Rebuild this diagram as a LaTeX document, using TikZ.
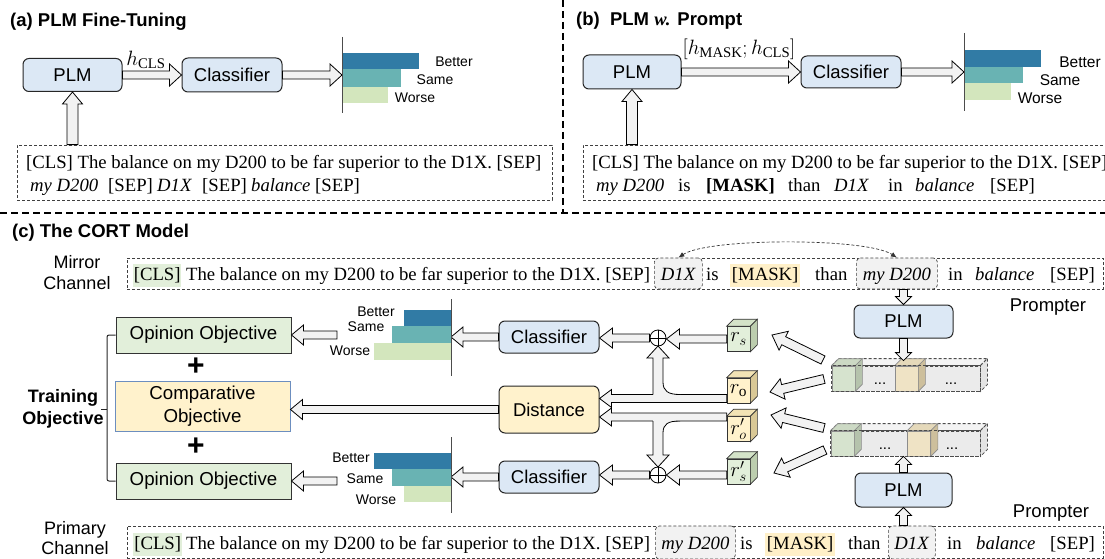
\documentclass[tikz,border=0pt]{standalone}
\usepackage{fontspec}
\setmainfont{Liberation Serif}
\setsansfont{Liberation Sans}
\usetikzlibrary{calc,arrows.meta}
\definecolor{boxblue}{HTML}{DCE8F5}
\definecolor{boxgreen}{HTML}{E2EFDA}
\definecolor{boxyellow}{HTML}{FFF2CC}
\definecolor{compborder}{HTML}{6C8EBF}
\definecolor{arrfill}{HTML}{F2F2F2}
\definecolor{barA}{HTML}{317BA5}
\definecolor{barB}{HTML}{69B3B3}
\definecolor{barC}{HTML}{D3E6BD}
\definecolor{hlgreen}{HTML}{E2EFDA}
\definecolor{hlyellow}{HTML}{FFF0C8}
\definecolor{tokgray}{HTML}{F2F2F2}
\definecolor{rowgray}{HTML}{EBEBEB}
\definecolor{rowtop}{HTML}{F3F3F3}
\definecolor{rowside}{HTML}{E4E4E4}
\definecolor{gfront}{HTML}{E2EFDA}
\definecolor{gtop}{HTML}{D4E3C8}
\definecolor{gside}{HTML}{BCCDAE}
\definecolor{yfront}{HTML}{FFF2CC}
\definecolor{ytop}{HTML}{F2E3B5}
\definecolor{yside}{HTML}{D9C896}
\definecolor{gfade}{HTML}{D6E3CE}
\definecolor{gfadetop}{HTML}{CCD9C4}
\definecolor{gfadeside}{HTML}{B5C3AC}
\definecolor{yfade}{HTML}{EFE3C5}
\definecolor{yfadetop}{HTML}{E5D9BA}
\definecolor{yfadeside}{HTML}{CDBF9C}
\newcommand{\fsz}[1]{\fontsize{#1}{#1}\selectfont}
\def\arw{4pt}\def\arh{11pt}\def\arl{12pt}
\newcommand{\cubesides}[4]{%
  \draw[#4, fill=#2] (#1.north west) -- ($(#1.north west)+(7,-7)$) -- ($(#1.north east)+(7,-7)$) -- (#1.north east) -- cycle;
  \draw[#4, fill=#3] (#1.north east) -- ($(#1.north east)+(7,-7)$) -- ($(#1.south east)+(7,-7)$) -- (#1.south east) -- cycle;}
\tikzset{
  pbox/.style={draw=black!85, line width=1pt, rounded corners=6pt, fill=boxblue, font=\sffamily\fsz{18.5}, inner sep=0pt},
  obox/.style={draw=black!80, line width=1pt, fill=boxgreen, font=\sffamily\fsz{18.7}, inner sep=0pt, minimum width=175pt, minimum height=36pt},
  word/.style={font=\rmfamily\fsz{18.7}, inner sep=0pt, anchor=base west},
  hl/.style={word, inner xsep=0pt, inner ysep=3pt, text height=13pt, text depth=4pt},
  tokbox/.style={word, draw=black!75, line width=0.7pt, dash pattern=on 3pt off 2pt, rounded corners=4pt, fill=tokgray, inner xsep=0pt, inner ysep=6pt, text height=16pt, text depth=3pt},
  blbl/.style={font=\sffamily\fsz{14}, inner sep=0pt},
  titl/.style={font=\sffamily\bfseries\fsz{18.5}, inner sep=0pt, anchor=west},
  sans/.style={font=\sffamily\fsz{18.5}, inner sep=0pt},
  dbox/.style={draw=black!75, line width=0.8pt, dash pattern=on 3pt off 2pt, inner sep=0pt},
  sepline/.style={draw=black, line width=1.5pt, dash pattern=on 7pt off 4pt},
  axisline/.style={draw=black!70, line width=1pt},
  mathlbl/.style={inner sep=0pt, font=\fsz{21}},
  aw/.code={\def\arw{#1}}, ah/.code={\def\arh{#1}}, al/.code={\def\arl{#1}},
  barr/.style={draw=black, fill=arrfill, line width=0.8pt, line join=miter,
    to path={let \p1=(\tikztostart), \p2=(\tikztotarget), \p3=($(\p2)!\arl!(\p1)$) in
      ($(\p1)!\arw!90:(\p2)$) -- ($(\p3)!\arw!90:(\p2)$) -- ($(\p3)!\arh!90:(\p2)$) -- (\p2)
      -- ($(\p3)!\arh!-90:(\p2)$) -- ($(\p3)!\arw!-90:(\p2)$) -- ($(\p1)!\arw!-90:(\p2)$) -- cycle}},
  cubef/.style={draw=black!80, line width=0.7pt, minimum width=23pt, minimum height=25pt, inner sep=0pt, font=\fsz{22}},
  cubel/.style={draw=black!80, line width=0.7pt},
  rowl/.style={draw=black!70, line width=0.8pt, dash pattern=on 3pt off 2pt},
  icubel/.style={draw=black!45, line width=0.6pt},
  oplus/.style={circle, draw=black, line width=0.8pt, minimum size=16pt, inner sep=0pt},
  dots/.style={font=\sffamily\fsz{15}, inner sep=0pt, anchor=base},
}
\begin{document}
\begin{tikzpicture}[x=1pt,y=-1pt]
\useasboundingbox (0,0) rectangle (1105,559);

% separators
\draw[sepline] (0,213) -- (1105,213);
\draw[sepline] (563,0) -- (563,213);

% ---------------- (a)
\node[titl] (ta) at (10,22) {(a) PLM Fine-Tuning};
\node[pbox, minimum width=99pt, minimum height=33pt] (plmA) at (72.5,75) {PLM};
\node[pbox, minimum width=100pt, minimum height=34pt] (clsA) at (232,75) {Classifier};
\coordinate (axA) at (342,75);
\draw[barr] (plmA.east) to (clsA.west);
\node[mathlbl] (hA) at (146,60) {$h_{\mathrm{CLS}}$};
\draw[barr] (clsA.east) to (axA);
\fill[barA] (342,53) rectangle (419,69);
\fill[barB] (342,69) rectangle (401,87);
\fill[barC] (342,87) rectangle (388,103);
\draw[axisline] (342,37) -- (342,113);
\node[blbl] (bA1) at (454,62) {Better};
\node[blbl] (bA2) at (435,80) {Same};
\node[blbl] (bA3) at (415,98) {Worse};
\node[dbox, minimum width=535pt, minimum height=55pt] (txA) at (284.5,172.5) {};
\draw[barr, aw=5.5pt, ah=10pt, al=12pt] (txA.north -| plmA.south) to (plmA.south);
\node[word] (a1) at (26,168) {[CLS] The balance on my D200 to be far superior to the D1X. [SEP]};
\node[word] (a2) at (30,191) {\textit{my D200}};
\node[word] (a3) at (108,191) {[SEP]};
\node[word] (a4) at (157,191) {\textit{D1X}};
\node[word] (a5) at (202,191) {[SEP]};
\node[word] (a6) at (251,191) {\textit{balance}};
\node[word] (a7) at (315,191) {[SEP]};

% ---------------- (b)
\node[titl] (tb) at (576,21) {(b)\ \ PLM {\rmfamily\itshape w.} Prompt};
\node[pbox, minimum width=98pt, minimum height=34pt] (plmB) at (632,72) {PLM};
\node[pbox, minimum width=100pt, minimum height=32pt] (clsB) at (851,72) {Classifier};
\coordinate (axB) at (964,72);
\draw[barr] (plmB.east) to (clsB.west);
\node[mathlbl] (hB) at (739,49) {$[h_{\mathrm{MASK}};h_{\mathrm{CLS}}]$};
\draw[barr] (clsB.east) to (axB);
\fill[barA] (964,50) rectangle (1041,67);
\fill[barB] (964,67) rectangle (1023,83);
\fill[barC] (964,83) rectangle (1011,100);
\draw[axisline] (964,33) -- (964,111);
\node[blbl, font=\sffamily\fsz{15.5}] (bB1) at (1080,62) {Better};
\node[blbl, font=\sffamily\fsz{15.5}] (bB2) at (1060,80) {Same};
\node[blbl, font=\sffamily\fsz{15.5}] (bB3) at (1040,98) {Worse};
\node[dbox, minimum width=530pt, minimum height=55pt] (txB) at (848,172.5) {};
\draw[barr, aw=5.5pt, ah=10pt, al=12pt] (txB.north -| plmB.south) to (plmB.south);
\node[word] (b1) at (592,168) {[CLS] The balance on my D200 to be far superior to the D1X. [SEP]};
\node[word] (b2) at (596,191) {\textit{my D200}};
\node[word] (b3) at (678,191) {is};
\node[word] (b4) at (706,191) {\textbf{[MASK]}};
\node[word] (b5) at (788,191) {than};
\node[word] (b6) at (834,191) {\textit{D1X}};
\node[word] (b7) at (888,191) {in};
\node[word] (b8) at (915,191) {\textit{balance}};
\node[word] (b9) at (990,191) {[SEP]};

% ---------------- (c)
\node[titl] (tc) at (12,233) {(c) The CORT Model};
\node[align=center, inner sep=0pt, font=\sffamily\fontsize{18}{21}\selectfont] (lmir) at (77,273) {Mirror\\Channel};
\node[align=center, inner sep=0pt, font=\sffamily\fontsize{18}{20}\selectfont] (lpri) at (75,538) {Primary\\Channel};

% mirror row
\node[dbox, minimum width=976pt, minimum height=31pt] (mirror) at (615,273.5) {};
\node[hl, fill=hlgreen, minimum width=48pt] (mcls) at (133,280) {[CLS]};
\node[word] (msent) at (186,280) {The balance on my D200 to be far superior to the D1X. [SEP]};
\node[tokbox, minimum width=48pt] (md1x) at (654,280) {\textit{D1X}};
\node[word] (mis) at (706,280) {is};
\node[hl, fill=hlyellow, minimum width=70pt] (mmask) at (730,280) {[MASK]};
\node[word] (mthan) at (815,280) {than};
\node[tokbox, minimum width=81pt] (mmy) at (856,280) {\textit{my D200}};
\node[word] (min) at (948,280) {in};
\node[word] (mbal) at (975,280) {\textit{balance}};
\node[word] (msep) at (1050,280) {[SEP]};
\draw[black!80, line width=0.7pt, dash pattern=on 3pt off 2pt, {Latex[length=6pt,width=5pt]}-{Latex[length=6pt,width=5pt]}]
  (md1x.north) .. controls +(30,-20) and +(-30,-20) .. (mmy.north);

% primary row
\node[dbox, minimum width=976pt, minimum height=32pt] (primary) at (615,542) {};
\node[hl, fill=hlgreen, minimum width=49pt] (pcls) at (133,549) {[CLS]};
\node[word] (psent) at (186,549) {The balance on my D200 to be far superior to the D1X. [SEP]};
\node[tokbox, inner ysep=7pt, minimum width=80pt] (pmy) at (655,549) {\textit{my D200}};
\node[word] (pis) at (740,549) {is};
\node[hl, fill=hlyellow, minimum width=70pt] (pmask) at (765,549) {[MASK]};
\node[word] (pthan) at (848,549) {than};
\node[tokbox, inner ysep=7pt, minimum width=47pt] (pd1x) at (888,549) {\textit{D1X}};
\node[word] (pin) at (947,549) {in};
\node[word] (pbal) at (976,549) {\textit{balance}};
\node[word] (psep) at (1050,549) {[SEP]};

% prompters
\node[pbox, minimum width=99pt, minimum height=33pt] (plmU) at (903.5,321.5) {PLM};
\node[pbox, minimum width=97pt, minimum height=34pt] (plmL) at (903.5,490) {PLM};
\node[sans] (prU) at (1048,307) {Prompter};
\node[sans] (prL) at (1051,513) {Prompter};
\draw[barr, aw=4pt, ah=8pt, al=8pt] (mirror.south -| plmU.north) to (plmU.north);
\draw[barr, aw=4pt, ah=8pt, al=8pt] (primary.north -| plmL.south) to (plmL.south);

% representation rows
\node[rowl, fill=rowgray, minimum width=148pt, minimum height=25pt, inner sep=0pt] (rowU) at (906,378.5) {};
\cubesides{rowU}{rowtop}{rowside}{rowl}
\node[icubel, fill=gfade, minimum width=23pt, minimum height=25pt, inner sep=0pt] (gU) at (843.5,378.5) {};
\cubesides{gU}{gfadetop}{gfadeside}{icubel}
\node[icubel, fill=yfade, minimum width=23pt, minimum height=25pt, inner sep=0pt] (yU) at (906.5,378.5) {};
\cubesides{yU}{yfadetop}{yfadeside}{icubel}
\draw[rowl] (rowU.north west) rectangle (rowU.south east);
\node[dots] (dU1) at (880,384) {...};
\node[dots] (dU2) at (951,384) {...};

\node[rowl, fill=rowgray, minimum width=149pt, minimum height=25pt, inner sep=0pt] (rowL) at (905.5,443.5) {};
\cubesides{rowL}{rowtop}{rowside}{rowl}
\node[icubel, fill=gfade, minimum width=23pt, minimum height=25pt, inner sep=0pt] (gL) at (842.5,443.5) {};
\cubesides{gL}{gfadetop}{gfadeside}{icubel}
\node[icubel, fill=yfade, minimum width=23pt, minimum height=25pt, inner sep=0pt] (yL) at (919,443.5) {};
\cubesides{yL}{yfadetop}{yfadeside}{icubel}
\draw[rowl] (rowL.north west) rectangle (rowL.south east);
\node[dots] (dL1) at (885,449) {...};
\node[dots] (dL2) at (952,449) {...};

\draw[barr, aw=4pt, ah=8pt, al=8pt] (plmU.south) to ($(rowU.north -| plmU.south)+(0,-5)$);
\draw[barr, aw=4pt, ah=8pt, al=8pt] (plmL.north) to (rowL.south -| plmL.north);

% r cubes
\node[cubef, fill=gfront] (rs) at (738.5,339) {$r_s$};
\cubesides{rs}{gtop}{gside}{cubel}
\node[cubef, fill=yfront] (ro) at (738.5,390.5) {$r_{\mathrm{o}}$};
\cubesides{ro}{ytop}{yside}{cubel}
\node[cubef, fill=yfront] (rop) at (738.5,429) {$r'_{o}$};
\cubesides{rop}{ytop}{yside}{cubel}
\node[cubef, fill=gfront] (rsp) at (738.5,471.5) {$r'_{s}$};
\cubesides{rsp}{gtop}{gside}{cubel}

% diagonal arrows from rows to cubes
\coordinate (d1s) at (823,360); \coordinate (d1e) at (772,335);
\coordinate (d2s) at (824,379); \coordinate (d2e) at (770,392);
\coordinate (d3s) at (824,428); \coordinate (d3e) at (771,415);
\coordinate (d4s) at (825,450); \coordinate (d4e) at (774,473);
\draw[barr, aw=4.5pt, ah=10.5pt, al=13pt] (d1s) to (d1e);
\draw[barr, aw=4.5pt, ah=10.5pt, al=13pt] (d2s) to (d2e);
\draw[barr, aw=4.5pt, ah=10.5pt, al=13pt] (d3s) to (d3e);
\draw[barr, aw=4.5pt, ah=10.5pt, al=13pt] (d4s) to (d4e);

% classifiers, distance, oplus
\node[pbox, minimum width=100pt, minimum height=32pt] (clsU) at (549,337) {Classifier};
\node[pbox, minimum width=100pt, minimum height=32pt] (clsL) at (549,477) {Classifier};
\node[pbox, fill=boxyellow, minimum width=100pt, minimum height=47pt] (dist) at (549,409.5) {Distance};
\node[oplus] (plusU) at (658,338) {};
\draw[line width=0.8pt] (plusU.north) -- (plusU.south) (plusU.west) -- (plusU.east);
\node[oplus] (plusL) at (658,475) {};
\draw[line width=0.8pt] (plusL.north) -- (plusL.south) (plusL.west) -- (plusL.east);

\draw[barr, aw=4pt, ah=10pt, al=13pt] (rs.west) to (rs.west -| plusU.east);
\draw[barr, aw=4pt, ah=10pt, al=13pt] (plusU.west) to (plusU.west -| clsU.east);
\draw[barr, aw=4pt, ah=10pt, al=13pt] (rsp.west |- plusL.east) to (plusL.east);
\draw[barr, aw=4pt, ah=10pt, al=13pt] (plusL.west) to (plusL.west -| clsL.east);

\coordinate (yo1) at (0,398.5);
\coordinate (yo2) at (0,417);
\draw[barr, aw=4pt, ah=9pt, al=12pt] (ro.west |- yo1) to (dist.east |- yo1);
\draw[barr, aw=4pt, ah=9pt, al=12pt] (rop.west |- yo2) to (dist.east |- yo2);

% curved branches to oplus
\fill[arrfill] (653,396) -- (653,358) -- (647,358) -- (658,346) -- (669,358) -- (663,358) -- (663,382)
  .. controls (663,391) and (668,394.5) .. (680,394.5) -- (680,396) -- cycle;
\draw[line width=0.8pt, line join=miter] (653,394.5) -- (653,358) -- (647,358) -- (658,346) -- (669,358) -- (663,358) -- (663,382)
  .. controls (663,391) and (668,394.5) .. (680,394.5);
\fill[arrfill] (653,420) -- (653,455) -- (647,455) -- (658,467) -- (669,455) -- (663,455) -- (663,433)
  .. controls (663,424) and (668,421) .. (680,421) -- (680,420) -- cycle;
\draw[line width=0.8pt, line join=miter] (653,421) -- (653,455) -- (647,455) -- (658,467) -- (669,455) -- (663,455) -- (663,433)
  .. controls (663,424) and (668,421) .. (680,421);

% bar charts (c)
\coordinate (axU) at (451,337);
\coordinate (axL) at (451,477);
\draw[barr, aw=4pt, ah=10pt, al=12pt] (clsU.west) to (axU);
\draw[barr, aw=4pt, ah=10pt, al=12pt] (clsL.west) to (axL);
\fill[barA] (404,310) rectangle (451,326);
\fill[barB] (392,326) rectangle (451,343);
\fill[barC] (374,343) rectangle (451,360);
\draw[axisline] (451,299) -- (451,376);
\node[blbl] (bU1) at (376,312) {Better};
\node[blbl] (bU2) at (366,327) {Same};
\node[blbl] (bU3) at (350,351) {Worse};
\fill[barA] (374,453) rectangle (451,469);
\fill[barB] (392,469) rectangle (451,486);
\fill[barC] (404,486) rectangle (451,502);
\draw[axisline] (451,437) -- (451,513);
\node[blbl] (bL1) at (351,458) {Better};
\node[blbl] (bL2) at (365,479) {Same};
\node[blbl] (bL3) at (376,500) {Worse};

% objectives
\node[obox] (oppU) at (203.5,335) {Opinion Objective};
\node[obox] (oppL) at (203.5,481) {Opinion Objective};
\node[obox, fill=boxyellow, draw=compborder, minimum height=50pt, align=center, font=\sffamily\fontsize{18.7}{23}\selectfont] (comp) at (202.5,406) {Comparative\\Objective};
\node[inner sep=0pt, font=\sffamily\bfseries\fsz{30}] (plus1) at (196,367) {+};
\node[inner sep=0pt, font=\sffamily\bfseries\fsz{30}] (plus2) at (196,447) {+};
\coordinate (tU) at (337,335);
\coordinate (tL) at (337,481);
\draw[barr, aw=4pt, ah=10pt, al=12pt] (tU) to (oppU.east);
\draw[barr, aw=4pt, ah=10pt, al=12pt] (tL) to (oppL.east);
\draw[barr, aw=4pt, ah=10pt, al=12pt] (dist.west) to (dist.west -| comp.east);

% training objective bracket
\node[align=center, inner sep=0pt, font=\sffamily\bfseries\fontsize{18}{22}\selectfont] (train) at (63,409) {Training\\Objective};
\coordinate (brk) at (107,409);
\draw[black!85, line width=1pt, rounded corners=2pt] (oppU.west) -| (brk) |- (oppL.west);
\draw[black!85, line width=1pt] (brk) -- ++(-6,0);
\end{tikzpicture}
\end{document}
